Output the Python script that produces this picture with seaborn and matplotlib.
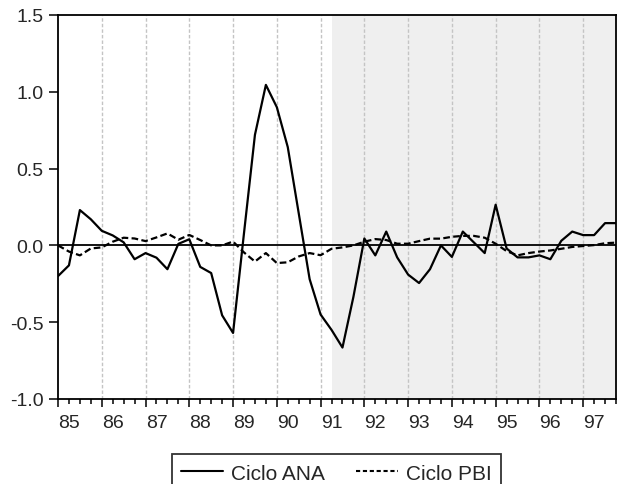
import numpy as np
import pandas as pd
import matplotlib
matplotlib.use("Agg")
import matplotlib.pyplot as plt
import matplotlib.ticker as mticker
from matplotlib.transforms import ScaledTranslation
import seaborn as sns

# ── DATA: quarterly cycles 1985Q1 - 1997Q4 ──
years = list(range(85, 98))
ciclo_ana = [-0.20, -0.13, 0.23, 0.17, 0.095, 0.065, 0.02, -0.09, -0.05, -0.08,
             -0.155, 0.01, 0.04, -0.14, -0.18, -0.455, -0.57, 0.08, 0.72, 1.045,
             0.90, 0.64, 0.21, -0.22, -0.45, -0.55, -0.665, -0.335, 0.045, -0.065,
             0.09, -0.078, -0.19, -0.245, -0.155, 0.0, -0.075, 0.09, 0.02, -0.05,
             0.265, -0.02, -0.078, -0.078, -0.065, -0.09, 0.03, 0.09, 0.067, 0.067,
             0.145, 0.145]
ciclo_pbi = [0.0, -0.04, -0.065, -0.02, -0.013, 0.024, 0.05, 0.045, 0.028, 0.052,
             0.078, 0.037, 0.068, 0.035, 0.0, 0.0, 0.025, -0.046, -0.105, -0.05,
             -0.115, -0.11, -0.072, -0.05, -0.064, -0.022, -0.013, 0.0, 0.024, 0.041,
             0.035, 0.011, 0.011, 0.028, 0.044, 0.044, 0.056, 0.062, 0.062, 0.05,
             0.011, -0.037, -0.065, -0.05, -0.04, -0.033, -0.022, -0.01, -0.004, 0.002,
             0.014, 0.018]
shade_start = 25  # 1991Q2

t = np.arange(len(ciclo_ana))
df = pd.DataFrame({'t': np.concatenate([t, t]),
                   'valor': ciclo_ana + ciclo_pbi,
                   'serie': ['Ciclo ANA'] * len(t) + ['Ciclo PBI'] * len(t)})

sns.set_style('white')
plt.rcParams['font.family'] = ['Liberation Sans', 'DejaVu Sans']

fig = plt.figure(figsize=(6.21, 4.85), dpi=100)
ax = fig.add_axes([58/621, 1 - 400/485, (616-58)/621, (400-16)/485])

ax.axvspan(shade_start, t[-1], color='#efefef', lw=0, zorder=0)
for k in range(4, len(t), 4):
    ax.axvline(k, color='#c4c4c4', lw=1, ls=(0, (2.5, 1.5)), zorder=1)
ax.axhline(0, color='black', lw=1.3, zorder=2)

sns.lineplot(data=df, x='t', y='valor', style='serie', color='black',
             dashes={'Ciclo ANA': '', 'Ciclo PBI': (3, 1.5)},
             lw=1.6, ax=ax, legend=False, zorder=3)

ax.set_xlim(0, t[-1])
ax.set_ylim(-1.0, 1.5)
ax.set_xlabel('')
ax.set_ylabel('')
ax.yaxis.set_major_locator(mticker.MultipleLocator(0.5))
ax.yaxis.set_major_formatter(mticker.FormatStrFormatter('%.1f'))
ax.set_xticks(np.arange(0, len(t), 4))
ax.set_xticklabels([str(y) for y in years])
ax.xaxis.set_minor_locator(mticker.MultipleLocator(1))
ax.tick_params(axis='x', which='major', direction='out', length=6, width=1.3,
               labelsize=14, pad=5, bottom=True)
ax.tick_params(axis='x', which='minor', direction='out', length=3.5, width=1.3,
               bottom=True)
ax.tick_params(axis='y', which='major', direction='out', length=6.5, width=1.3,
               labelsize=14, pad=4, left=True)
for lab in ax.get_xticklabels():
    lab.set_transform(lab.get_transform() + ScaledTranslation(0.11, 0, fig.dpi_scale_trans))
for s in ax.spines.values():
    s.set_color('black')
    s.set_linewidth(1.3)

# legend box centred under the plot area, bottom clipped by the figure edge
handles = [plt.Line2D([], [], color='black', lw=1.5),
           plt.Line2D([], [], color='black', lw=1.5, ls=(0, (2, 1.3)))]
leg = fig.legend(handles, ['Ciclo ANA', 'Ciclo PBI'], loc='upper center',
                 bbox_to_anchor=(0.542, 0.061), borderaxespad=0, ncol=2,
                 fontsize=15, frameon=True, fancybox=False, handlelength=2.0,
                 columnspacing=1.5, handletextpad=0.4, borderpad=0.45)
leg.get_frame().set_edgecolor('black')
leg.get_frame().set_linewidth(1.3)

fig.savefig('out.png', dpi=100)
